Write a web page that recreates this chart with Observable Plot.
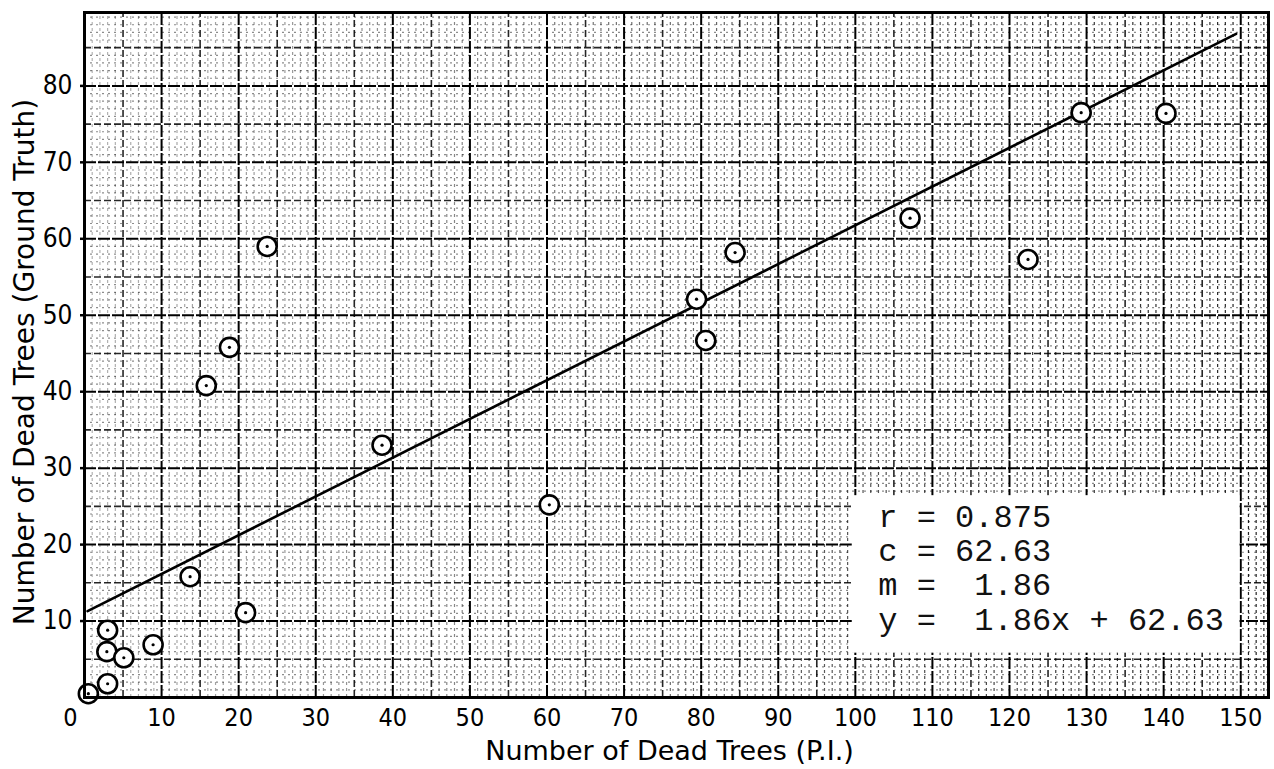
<!DOCTYPE html>
<html>
<head>
<meta charset="utf-8">
<script src="https://cdn.jsdelivr.net/npm/d3@7"></script>
<script src="https://cdn.jsdelivr.net/npm/@observablehq/plot@0.6"></script>
<style>
  html, body { margin: 0; padding: 0; background: #fff; }
  #chart svg text { white-space: pre; }
</style>
</head>
<body>
<div id="chart"></div>
<script>
const piCounts    = [0.5, 3.0, 2.9, 3.0, 5.1, 8.9, 13.7, 20.9, 15.8, 18.8, 23.7, 38.6, 60.3, 79.4, 80.6, 84.4, 107.1, 122.4, 129.3, 140.3];
const groundTruth = [0.5, 1.8, 6.0, 8.8, 5.2, 6.9, 15.8, 11.1, 40.8, 45.8, 59.0, 33.0, 25.2, 52.1, 46.7, 58.2, 62.7, 57.3, 76.5, 76.4];

// Fitted line as drawn (end points)
const fitX = [0.4, 149.4];
const fitY = [11.3, 86.8];

// Tick labels
const xTicks = [10, 20, 30, 40, 50, 60, 70, 80, 90, 100, 110, 120, 130, 140, 150];
const yTicks = [10, 20, 30, 40, 50, 60, 70, 80];

// Statistics box (data-unit extent) and its lines
const boxX = [99.6, 149.9];
const boxY = [5.8, 26.4];
const statLines = ["r = 0.875", "c = 62.63", "m =  1.86", "y =  1.86x + 62.63"];

const xTitle = "Number of Dead Trees (P.I.)";
const yTitle = "Number of Dead Trees (Ground Truth)";

const points = piCounts.map((x, i) => ({x, y: groundTruth[i]}));
const fit = fitX.map((x, i) => ({x, y: fitY[i]}));

const xMax = 153.6, yMax = 89.6;
const fineX = d3.range(1, 154).filter(v => v % 5 !== 0);
const fineY = d3.range(1, 90).filter(v => v % 5 !== 0);
const midX = d3.range(5, 154, 10);
const midY = d3.range(5, 90, 10);
const majX = d3.range(10, 154, 10);
const majY = d3.range(10, 90, 10);

const labelFont = "'DejaVu Sans Condensed', 'DejaVu Sans', sans-serif";
const titleFont = "'DejaVu Sans', sans-serif";

const chart = Plot.plot({
  width: 1274,
  height: 769,
  marginLeft: 84,
  marginRight: 6,
  marginTop: 12,
  marginBottom: 72,
  style: {background: "#fff", fontFamily: labelFont, fontSize: "26px", color: "#000"},
  x: {domain: [0, xMax]},
  y: {domain: [0, yMax]},
  marks: [
    // graph paper: fine grid
    Plot.ruleX(fineX, {y1: 0, y2: yMax, stroke: "#000", strokeWidth: 1.2, strokeDasharray: "3,3",
      strokeOpacity: d => 0.3 + 0.55 * d / 150}),
    Plot.ruleY(fineY, {x1: 0, x2: xMax, stroke: "#000", strokeWidth: 1.2, strokeDasharray: "2,4",
      strokeOpacity: 0.45}),
    // 5-unit lines
    Plot.ruleX(midX, {y1: 0, y2: yMax, stroke: "#000", strokeWidth: 1.6, strokeDasharray: "7,3", strokeOpacity: 0.85}),
    Plot.ruleY(midY, {x1: 0, x2: xMax, stroke: "#000", strokeWidth: 1.6, strokeDasharray: "7,3", strokeOpacity: 0.85}),
    // 10-unit lines
    Plot.ruleX(majX, {y1: 0, y2: yMax, stroke: "#000", strokeWidth: 2, strokeDasharray: "12,2"}),
    Plot.ruleY(majY, {x1: 0, x2: xMax, stroke: "#000", strokeWidth: 2, strokeDasharray: "12,2"}),
    // statistics box background
    Plot.rect([{x1: boxX[0], x2: boxX[1], y1: boxY[0], y2: boxY[1]}], {x1: "x1", x2: "x2", y1: "y1", y2: "y2", fill: "#fff"}),
    Plot.text([statLines.join("\n")], {
      x: () => boxX[0], y: () => boxY[1],
      text: d => d, textAnchor: "start", lineAnchor: "top",
      dx: 26, dy: 7, lineHeight: 1.07,
      fontFamily: "'Liberation Mono', 'DejaVu Sans Mono', monospace",
      fontSize: 32, fill: "#111"
    }),
    // fitted line
    Plot.line(fit, {x: "x", y: "y", stroke: "#000", strokeWidth: 2.6}),
    // observations: circled dots
    Plot.dot(points, {x: "x", y: "y", r: 9.5, fill: "#fff", stroke: "#000", strokeWidth: 2.6}),
    Plot.dot(points, {x: "x", y: "y", r: 1.6, fill: "#000"}),
    // frame
    Plot.frame({stroke: "#000", strokeWidth: 3}),
    // axes
    Plot.axisX(xTicks, {tickSize: 0, tickPadding: 11, fontSize: 25, fontFamily: labelFont, label: null}),
    Plot.text([0], {x: d => d, frameAnchor: "bottom", dx: -14, dy: 11, lineAnchor: "top", text: d => String(d),
      fontSize: 25, fontFamily: labelFont}),
    Plot.axisY(yTicks, {tickSize: 4, tickPadding: 8, strokeWidth: 2.5, fontSize: 26, fontFamily: labelFont, label: null}),
    // axis titles
    Plot.text([xTitle], {frameAnchor: "bottom", lineAnchor: "middle", textAnchor: "middle", dy: 54, dx: -7,
      text: d => d, fontSize: 27, fontFamily: titleFont}),
    Plot.text([yTitle], {frameAnchor: "left", lineAnchor: "middle", textAnchor: "middle", dx: -59, dy: 7, rotate: -90,
      text: d => d, fontSize: 28, fontFamily: titleFont})
  ]
});

document.getElementById("chart").appendChild(chart);
</script>
</body>
</html>
